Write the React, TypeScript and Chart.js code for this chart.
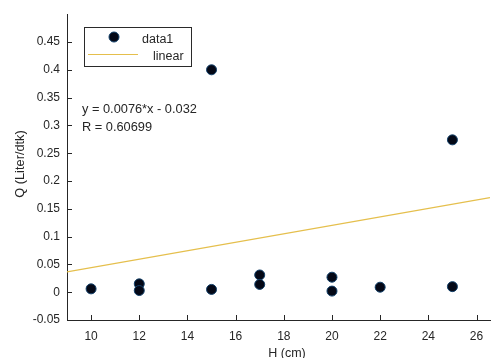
import React, { useEffect, useRef } from "react";
import { Chart, registerables } from "chart.js";

Chart.register(...registerables);

const heightCm = [10, 12, 12, 15, 15, 17, 17, 20, 20, 22, 25, 25];
const flowQ = [0.006, 0.015, 0.003, 0.4, 0.005, 0.031, 0.014, 0.027, 0.002, 0.009, 0.274, 0.01];
const fitX = [9, 26.56];
const fitY = [0.0364, 0.17];
const xTicks = [10, 12, 14, 16, 18, 20, 22, 24, 26];
const yTicks = [-0.05, 0, 0.05, 0.1, 0.15, 0.2, 0.25, 0.3, 0.35, 0.4, 0.45];
const yTickLabels = ["-0.05", "0", "0.05", "0.1", "0.15", "0.2", "0.25", "0.3", "0.35", "0.4", "0.45"];
const legendLabels = ["data1", "linear"];
const equationLines = ["y = 0.0076*x - 0.032", "R = 0.60699"];
const xTitle = "H (cm)";
const yTitle = "Q (Liter/dtk)";

const FONT = "'Liberation Sans', Arial, Helvetica, sans-serif";
const TXT = "#262626";
const MARK_FILL = "#040816";
const MARK_EDGE = "#12406a";
const LINE_COLOR = "#e5bf4c";

export default function App() {
  const ref = useRef<HTMLCanvasElement | null>(null);
  useEffect(() => {
    const overlay = {
      id: "overlay",
      afterDraw(chart: any) {
        const ctx = chart.ctx;
        const xs = chart.scales.x;
        const ys = chart.scales.y;
        const area = chart.chartArea;
        ctx.save();
        // inward ticks
        ctx.strokeStyle = TXT;
        ctx.lineWidth = 1;
        ctx.beginPath();
        xTicks.forEach((v) => {
          const px = Math.round(xs.getPixelForValue(v)) + 0.5;
          ctx.moveTo(px, area.bottom);
          ctx.lineTo(px, area.bottom - 5);
        });
        yTicks.forEach((v) => {
          const py = Math.round(ys.getPixelForValue(v)) + 0.5;
          ctx.moveTo(area.left, py);
          ctx.lineTo(area.left + 5, py);
        });
        ctx.stroke();

        // titles
        ctx.fillStyle = TXT;
        ctx.font = `12.5px ${FONT}`;
        ctx.textAlign = "center";
        ctx.textBaseline = "middle";
        ctx.fillText(xTitle, 287, 354);
        ctx.save();
        ctx.translate(20, 164);
        ctx.rotate(-Math.PI / 2);
        ctx.font = `12.8px ${FONT}`;
        ctx.fillText(yTitle, 0, 0);
        ctx.restore();

        // equation text
        ctx.textAlign = "left";
        ctx.font = `12.8px ${FONT}`;
        ctx.fillText(equationLines[0], 82, 109);
        ctx.fillText(equationLines[1], 82, 127);

        // legend
        ctx.fillStyle = "#ffffff";
        ctx.fillRect(84, 27, 108, 40);
        ctx.strokeStyle = "#2a2a2a";
        ctx.lineWidth = 1;
        ctx.strokeRect(84.5, 27.5, 107, 39);
        ctx.beginPath();
        ctx.arc(114, 37, 5, 0, Math.PI * 2);
        ctx.fillStyle = MARK_FILL;
        ctx.fill();
        ctx.strokeStyle = MARK_EDGE;
        ctx.stroke();
        ctx.beginPath();
        ctx.strokeStyle = LINE_COLOR;
        ctx.moveTo(88, 54.5);
        ctx.lineTo(138, 54.5);
        ctx.stroke();
        ctx.fillStyle = TXT;
        ctx.font = `12.5px ${FONT}`;
        ctx.fillText(legendLabels[0], 142, 40);
        ctx.fillText(legendLabels[1], 153, 57);
        ctx.restore();
      },
    };

    const chart = new Chart(ref.current as HTMLCanvasElement, {
      type: "scatter",
      data: {
        datasets: [
          {
            label: legendLabels[0],
            data: heightCm.map((x, i) => ({ x, y: flowQ[i] })),
            pointRadius: 5,
            pointBackgroundColor: MARK_FILL,
            pointBorderColor: MARK_EDGE,
            pointBorderWidth: 1,
            order: 1,
          },
          {
            type: "line",
            label: legendLabels[1],
            data: fitX.map((x, i) => ({ x, y: fitY[i] })),
            borderColor: LINE_COLOR,
            borderWidth: 1.2,
            pointRadius: 0,
            showLine: true,
            fill: false,
            order: 2,
          } as any,
        ],
      },
      options: {
        animation: false,
        responsive: true,
        maintainAspectRatio: false,
        layout: { padding: { top: 10, right: 0, bottom: 0, left: 0 } },
        plugins: { legend: { display: false }, tooltip: { enabled: false } },
        scales: {
          x: {
            type: "linear",
            min: 9,
            max: 26.56,
            afterBuildTicks: (s: any) => {
              s.ticks = xTicks.map((v) => ({ value: v }));
            },
            afterFit: (s: any) => {
              s.height = 38;
            },
            grid: { display: false, drawTicks: false },
            border: { display: true, color: TXT, width: 1 },
            ticks: {
              color: TXT,
              font: { family: FONT, size: 12 },
              padding: 9,
              maxRotation: 0,
              autoSkip: false,
              callback: (v: any) => String(v),
            },
          },
          y: {
            type: "linear",
            min: -0.05,
            max: 0.5,
            afterBuildTicks: (s: any) => {
              s.ticks = yTicks.map((v) => ({ value: v }));
            },
            afterFit: (s: any) => {
              s.width = 67;
            },
            grid: { display: false, drawTicks: false },
            border: { display: true, color: TXT, width: 1 },
            ticks: {
              color: TXT,
              font: { family: FONT, size: 12 },
              padding: 7,
              autoSkip: false,
              callback: (_v: any, i: number) => yTickLabels[i],
            },
          },
        },
      },
      plugins: [overlay],
    });
    return () => chart.destroy();
  }, []);

  return (
    <div style={{ position: "absolute", left: 0, top: 0, width: 496, height: 358, background: "#fff" }}>
      <canvas ref={ref} />
    </div>
  );
}
